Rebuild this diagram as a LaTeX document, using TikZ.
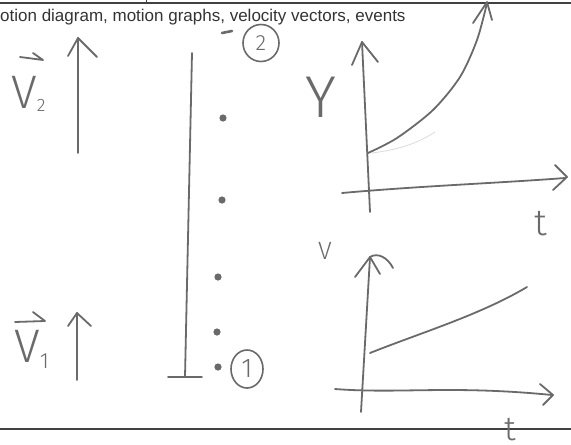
\documentclass[tikz,border=0pt]{standalone}
\usepackage{fontspec}
\setmainfont{Liberation Sans}
\newfontfamily\handfont{Fira Sans}[UprightFont=* Light]
\usetikzlibrary{shapes.geometric}
\definecolor{penc}{HTML}{6A6A6A}
\definecolor{rulec}{HTML}{404040}
\definecolor{titlec}{HTML}{333333}
\begin{document}
\begin{tikzpicture}[x=1pt,y=-1pt,
  ink/.style={draw=penc, line width=1.8pt, line cap=round, line join=round},
  faint/.style={draw=penc!25, line width=0.8pt, line cap=round},
  rulestyle/.style={draw=rulec, line width=1.8pt},
  hand/.style={text=penc, inner sep=0pt, font=\handfont\fontsize{#1}{#1}\selectfont},
  dotm/.style={fill=penc, draw=none},
  ring/.style={draw=penc, line width=1.6pt, ellipse, inner sep=0pt, text=penc}]
\useasboundingbox (0,0) rectangle (571,445);
% page rules
\coordinate (tl) at (0,3); \coordinate (tr) at (571,3);
\coordinate (bl) at (0,429); \coordinate (br) at (571,429);
\draw[rulestyle] (tl) -- (tr);
\draw[rulestyle] (bl) -- (br);
\coordinate (tk1) at (146,0); \coordinate (tk2) at (146,3);
\draw[draw=rulec, line width=1pt] (tk1) -- (tk2);
% title
\node[anchor=base west, inner sep=0pt, text=titlec, font=\fontsize{17}{17}\selectfont] (title) at (0,21) {otion diagram, motion graphs, velocity vectors, events};

% velocity vectors
\coordinate (v2a) at (78,153); \coordinate (v2b) at (78,38);
\draw[ink] (v2a) -- (v2b);
\draw[ink] (68,56) -- (v2b) -- (97,57);
\node[hand=47, anchor=base west] (V2) at (11,108) {V\raisebox{-3pt}{\fontsize{18}{18}\selectfont 2}};
\draw[ink] (20,57) -- (43,60) -- (33,53);

\coordinate (v1a) at (77,380); \coordinate (v1b) at (77,313);
\draw[ink] (v1a) -- (v1b);
\draw[ink] (68,326) -- (v1b) -- (91,326);
\node[hand=47, anchor=base west] (V1) at (14,362) {V\raisebox{-6pt}{\fontsize{22}{22}\selectfont 1}};
\draw[ink] (15,322) -- (45,321) -- (33,312);

% motion diagram
\coordinate (ax1) at (192,53); \coordinate (ax2) at (185,377);
\draw[ink] (ax1) -- (ax2);
\coordinate (bar1) at (168,377); \coordinate (bar2) at (202,377);
\draw[ink] (bar1) -- (bar2);
\coordinate (d0a) at (222,33); \coordinate (d0b) at (232,31);
\draw[ink, line width=2.6pt] (d0a) -- (d0b);
\foreach \q in {(223,118), (222,200), (218,277), (217,332), (218,367)}
  \fill[dotm] \q circle (3.6pt);
\node[ring, minimum width=36pt, minimum height=37pt, font=\handfont\fontsize{22}{22}\selectfont] (e2) at (261,43) {2};
\node[ring, minimum width=32pt, minimum height=38pt, font=\handfont\fontsize{27}{27}\selectfont] (e1) at (247,369) {1};

% position graph
\coordinate (y0) at (370,212); \coordinate (y1) at (362,42);
\draw[ink] (y0) -- (y1);
\draw[ink] (352,65) -- (y1) -- (378,62);
\coordinate (t0) at (342,193); \coordinate (t1) at (565,178);
\draw[ink] (t0) .. controls (420,186) and (500,183) .. (t1);
\draw[ink] (555,165) -- (567,177) -- (553,190);
\node[hand=59] (Ylab) at (321,97) {Y};
\node[hand=37] (tlab1) at (541,224) {t};
\draw[ink] plot[smooth] coordinates {(368,153) (397,138) (433,110) (460,77) (477,40) (487,3)};
\draw[ink] (473,23) -- (487,2) -- (492,20);
\draw[faint] (372,153) .. controls (395,150) and (415,145) .. (435,132);

% velocity graph
\coordinate (w0) at (361,412); \coordinate (w1) at (370,257);
\draw[ink] (w0) -- (w1);
\draw[ink] (355,277) -- (w1) -- (380,274);
\draw[ink] (w1) .. controls (378,252) and (388,258) .. (393,268);
\coordinate (s0) at (335,389); \coordinate (s1) at (552,395);
\draw[ink] (s0) .. controls (400,394) and (450,385) .. (s1);
\draw[ink] (540,384) -- (553,395) -- (543,405);
\coordinate (l0) at (370,353); \coordinate (l1) at (527,287);
\draw[ink] (l0) .. controls (420,333) and (480,315) .. (l1);
\node[hand=25] (vlab) at (325,251) {V};
\node[hand=34] (tlab2) at (510,430) {t};
\end{tikzpicture}
\end{document}
